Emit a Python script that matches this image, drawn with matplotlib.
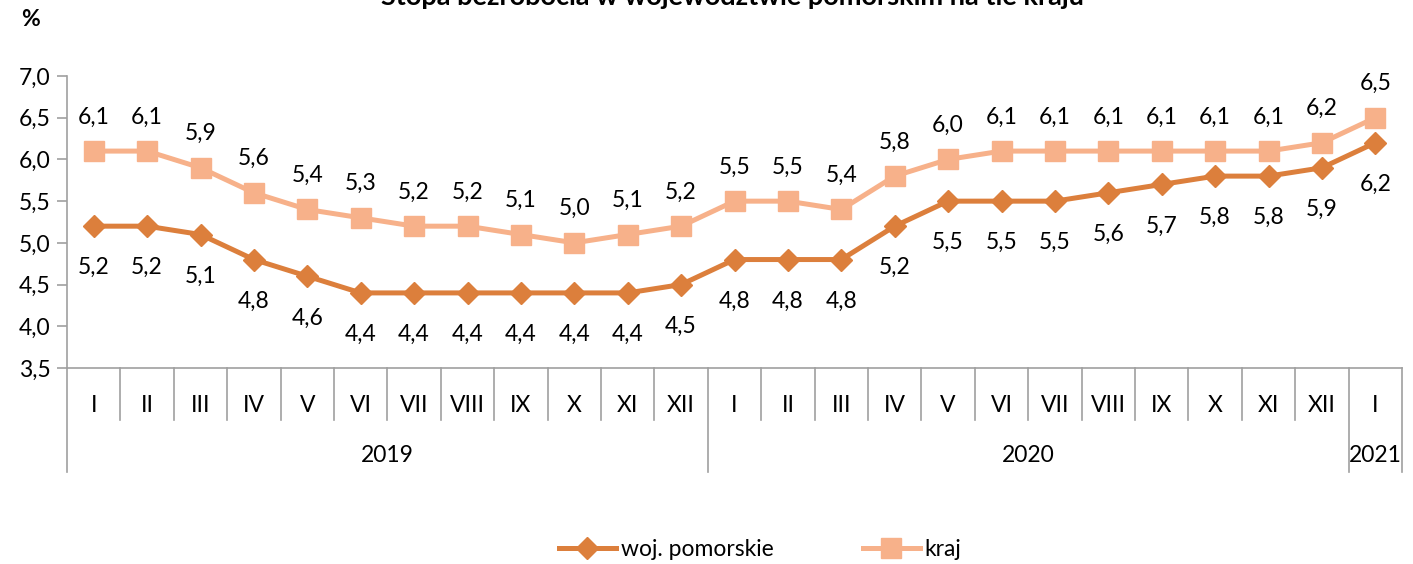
import matplotlib
matplotlib.use("Agg")
import matplotlib.pyplot as plt
from matplotlib.lines import Line2D

months = ["I", "II", "III", "IV", "V", "VI", "VII", "VIII", "IX", "X", "XI", "XII",
          "I", "II", "III", "IV", "V", "VI", "VII", "VIII", "IX", "X", "XI", "XII", "I"]
years = ["2019", "2020", "2021"]
year_counts = [12, 12, 1]
woj = [5.2, 5.2, 5.1, 4.8, 4.6, 4.4, 4.4, 4.4, 4.4, 4.4, 4.4, 4.5,
       4.8, 4.8, 4.8, 5.2, 5.5, 5.5, 5.5, 5.6, 5.7, 5.8, 5.8, 5.9, 6.2]
kraj = [6.1, 6.1, 5.9, 5.6, 5.4, 5.3, 5.2, 5.2, 5.1, 5.0, 5.1, 5.2,
        5.5, 5.5, 5.4, 5.8, 6.0, 6.1, 6.1, 6.1, 6.1, 6.1, 6.1, 6.2, 6.5]
yticks = [3.5, 4.0, 4.5, 5.0, 5.5, 6.0, 6.5, 7.0]

C_WOJ = "#DC7F3C"
C_KRAJ = "#F7B18A"
GRAY = "#A0A0A0"
FONT = "Lato"
FS = 16.5

plt.rcParams['font.family'] = [FONT, 'DejaVu Sans']

fig = plt.figure(figsize=(14.13, 5.64), dpi=100)
ax = fig.add_axes([67/1413, 1-368/564, (1402-67)/1413, (368-76)/564])

x = list(range(len(months)))
ax.plot(x, woj, color=C_WOJ, lw=3.6, marker='D', ms=11, zorder=3, label="woj. pomorskie")
ax.plot(x, kraj, color=C_KRAJ, lw=3.6, marker='s', ms=14.5, zorder=2, label="kraj")

def fmt(v):
    return f"{v:.1f}".replace(".", ",")

for xi, v in zip(x, kraj):
    ax.annotate(fmt(v), (xi, v), xytext=(0, 24.5), textcoords='offset points',
                ha='center', va='center', fontsize=FS, color='black')
for xi, v in zip(x, woj):
    ax.annotate(fmt(v), (xi, v), xytext=(0, -30), textcoords='offset points',
                ha='center', va='center', fontsize=FS, color='black')

ax.set_xlim(-0.5, len(months) - 0.5)
ax.set_ylim(3.5, 7.0)
ax.set_yticks(yticks)
ax.set_yticklabels([fmt(v) for v in yticks], fontsize=FS)
ax.tick_params(axis='y', length=7, width=1.2, color=GRAY, pad=5)
ax.set_xticks([])
for s in ['top', 'right']:
    ax.spines[s].set_visible(False)
ax.spines['left'].set_color(GRAY)
ax.spines['bottom'].set_color(GRAY)
ax.spines['left'].set_linewidth(1.2)
ax.spines['bottom'].set_linewidth(1.2)

tr = ax.get_xaxis_transform()
h = 368 - 76
y_month_line = -(420 - 368) / h
y_year_line = -(472 - 368) / h
y_month_lbl = -(405 - 368) / h
y_year_lbl = -(455 - 368) / h

year_bounds = [0]
for c in year_counts:
    year_bounds.append(year_bounds[-1] + c)

for i in range(len(months) + 1):
    yb = y_year_line if i in year_bounds else y_month_line
    ax.add_line(Line2D([i - 0.5, i - 0.5], [0, yb], transform=tr, color=GRAY,
                       lw=1.2, clip_on=False))
for i, m in enumerate(months):
    ax.text(i, y_month_lbl, m, transform=tr, ha='center', va='center', fontsize=FS)
for k, yr in enumerate(years):
    cx = (year_bounds[k] + year_bounds[k + 1]) / 2 - 0.5
    ax.text(cx, y_year_lbl, yr, transform=tr, ha='center', va='center', fontsize=FS)

fig.text(732/1413, 1 - 5/564, "Stopa bezrobocia w województwie pomorskim na tle kraju",
         ha='center', va='baseline', fontsize=19.5, fontweight='bold')
fig.text(30/1413, 1 - 20/564, "%", ha='center', va='center', fontsize=FS, fontweight='bold')

leg = fig.legend(loc='center', bbox_to_anchor=(760/1413, 1 - 550/564), ncol=2,
                 frameon=False, fontsize=FS, handlelength=2.5, columnspacing=3.9,
                 handletextpad=0.2)

fig.savefig("out.png", dpi=100)
